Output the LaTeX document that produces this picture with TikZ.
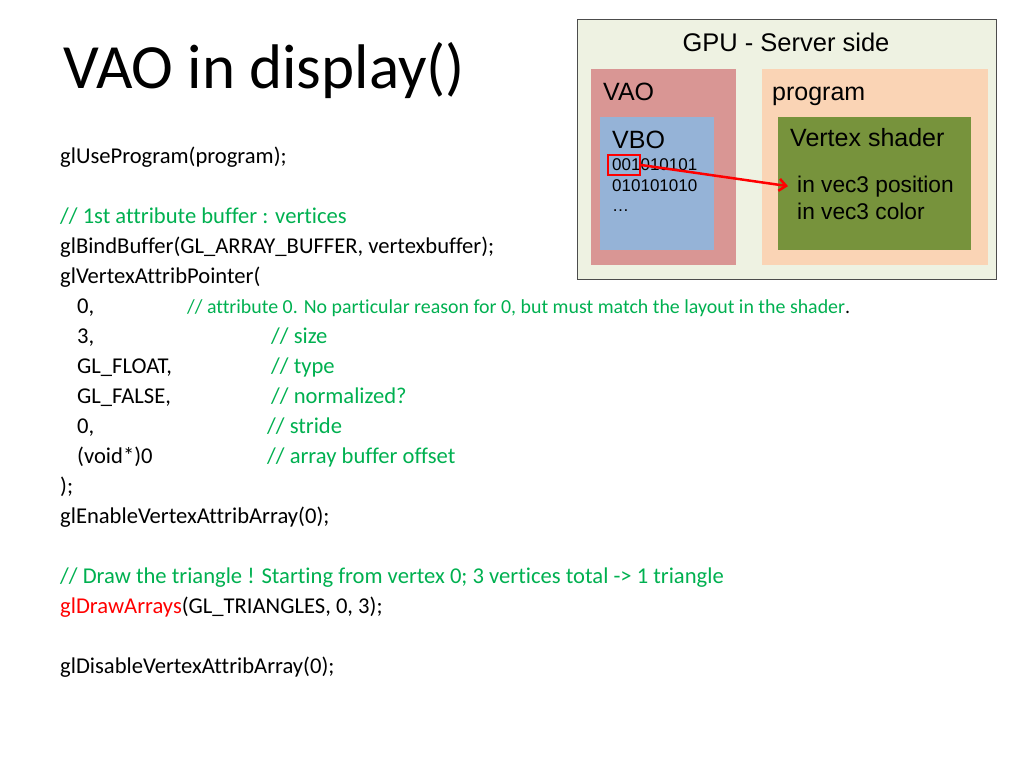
\documentclass[tikz,border=0pt]{standalone}
\usepackage{fontspec}
\setmainfont[Ligatures=NoCommon]{Carlito}
\newfontfamily\arial{Liberation Sans}
\usetikzlibrary{arrows.meta}
\definecolor{cgreen}{RGB}{0,176,80}
\definecolor{gpubg}{RGB}{238,242,226}
\definecolor{vaobg}{RGB}{217,150,148}
\definecolor{progbg}{RGB}{250,212,181}
\definecolor{vbobg}{RGB}{149,179,215}
\definecolor{vsbg}{RGB}{119,147,60}
\tikzset{
  code/.style={anchor=base west, inner sep=0pt, font=\fontsize{22.6}{26}\selectfont},
  cmt/.style={code, text=cgreen},
  lbl/.style={anchor=base west, inner sep=0pt, font=\arial\fontsize{25}{29}\selectfont},
  small/.style={anchor=base west, inner sep=0pt, font=\arial\fontsize{17}{20}\selectfont},
}
\begin{document}
\begin{tikzpicture}[x=1pt,y=-1pt]
\useasboundingbox (0,0) rectangle (1024,768);
% title
\node[anchor=base west, inner sep=0pt, font=\fontsize{63}{67}\selectfont] (title) at (63,88) {VAO in display()};
% code
\node[code] (l1) at (60,163) {glUseProgram(program);};
\node[cmt] (l2) at (60,223) {// 1st attribute buffer : vertices};
\node[code] (l3) at (60,253) {glBindBuffer(GL\_ARRAY\_BUFFER, vertexbuffer);};
\node[code] (l4) at (60,283) {glVertexAttribPointer(};
\node[code] (a1) at (77,313) {0,};
\node[anchor=base west, inner sep=0pt, font=\fontsize{19.9}{23}\selectfont, text=cgreen] (c1) at (187,313) {// attribute 0. No particular reason for 0, but must match the layout in the shader\textcolor{black}{.}};
\node[code] (a2) at (77,343) {3,};
\node[cmt] (c2) at (271,343) {// size};
\node[code] (a3) at (77,373) {GL\_FLOAT,};
\node[cmt] (c3) at (271,373) {// type};
\node[code] (a4) at (77,403) {GL\_FALSE,};
\node[cmt] (c4) at (271,403) {// normalized?};
\node[code] (a5) at (77,433) {0,};
\node[cmt] (c5) at (267,433) {// stride};
\node[code] (a6) at (77,463) {(void*)0};
\node[cmt] (c6) at (267,463) {// array buffer offset};
\node[code] (l5) at (60,493) {);};
\node[code] (l6) at (60,523) {glEnableVertexAttribArray(0);};
\node[cmt] (l7) at (60,583) {// Draw the triangle ! Starting from vertex 0; 3 vertices total -> 1 triangle};
\node[code] (l8) at (60,613) {\textcolor{red}{glDrawArrays}(GL\_TRIANGLES, 0, 3);};
\node[code] (l9) at (60,673) {glDisableVertexAttribArray(0);};
% GPU side
\fill[gpubg, draw=black!70, line width=1pt] (577,20) rectangle (996,279);
\node[anchor=base, inner sep=0pt, font=\arial\fontsize{25.5}{29}\selectfont] (gpu) at (786,52) {GPU - Server side};
\fill[vaobg] (591,69) rectangle (736,265);
\node[lbl] (vao) at (603,100) {VAO};
\fill[progbg] (762,69) rectangle (988,265);
\node[lbl] (prog) at (772,100) {program};
\fill[vbobg] (600,117) rectangle (714,250);
\node[lbl] (vbo) at (612,148) {VBO};
\node[small] (b1) at (612,170) {001010101};
\node[small] (b2) at (612,191) {010101010};
\node[small] (b3) at (612,211) {\dots};
\fill[vsbg] (778,117) rectangle (971,250);
\node[lbl] (vs) at (790,146) {Vertex shader};
\node[lbl, font=\arial\fontsize{22.7}{27}\selectfont] (pos) at (797,192) {in vec3 position};
\node[lbl, font=\arial\fontsize{22.7}{27}\selectfont] (col) at (797,219) {in vec3 color};
\node[draw=red, line width=2pt, inner sep=0pt, minimum width=32pt, minimum height=20pt] (sel) at (624,165) {};
\coordinate (tip) at ([xshift=-9pt]pos.west);
\draw[red, line width=2.5pt, -{Straight Barb[length=7pt,width=12pt]}] (sel.east) -- (tip);
\end{tikzpicture}
\end{document}
